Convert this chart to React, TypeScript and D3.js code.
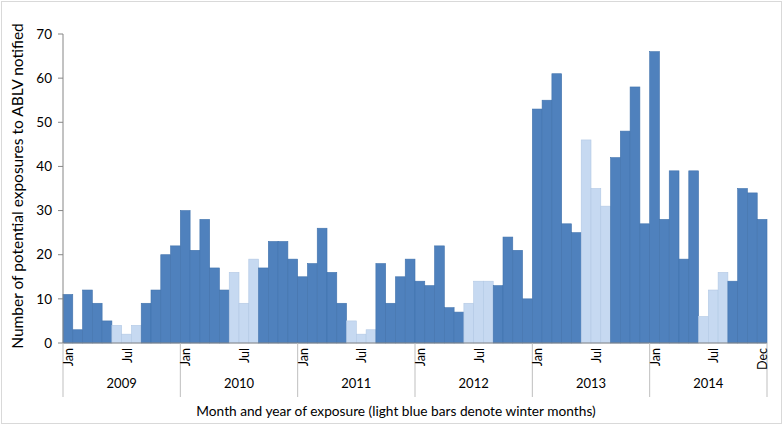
import React from "react";
import * as d3 from "d3";

const years = ["2009", "2010", "2011", "2012", "2013", "2014"];
const months = ["Jan", "Feb", "Mar", "Apr", "May", "Jun", "Jul", "Aug", "Sep", "Oct", "Nov", "Dec"];
const winterMonths = ["Jun", "Jul", "Aug"];
const values2009 = [11, 3, 12, 9, 5, 4, 2, 4, 9, 12, 20, 22];
const values2010 = [30, 21, 28, 17, 12, 16, 9, 19, 17, 23, 23, 19];
const values2011 = [15, 18, 26, 16, 9, 5, 2, 3, 18, 9, 15, 19];
const values2012 = [14, 13, 22, 8, 7, 9, 14, 14, 13, 24, 21, 10];
const values2013 = [53, 55, 61, 27, 25, 46, 35, 31, 42, 48, 58, 27];
const values2014 = [66, 28, 39, 19, 39, 6, 12, 16, 14, 35, 34, 28];
const yTicks = [0, 10, 20, 30, 40, 50, 60, 70];

const allValues = [values2009, values2010, values2011, values2012, values2013, values2014];

type Row = { key: string; year: string; month: string; value: number; winter: boolean };
const rows: Row[] = [];
years.forEach((y, yi) => {
  months.forEach((m, mi) => {
    rows.push({ key: `${y}-${m}`, year: y, month: m, value: allValues[yi][mi], winter: winterMonths.includes(m) });
  });
});

const W = 784;
const H = 427;
const left = 63;
const right = 767;
const top = 34;
const bottom = 343;
const font = "Lato, 'Open Sans', sans-serif";

export default function App() {
  const x = d3.scaleBand<string>().domain(rows.map((r) => r.key)).range([left, right]).padding(0);
  const y = d3.scaleLinear().domain([0, 70]).range([bottom, top]);
  const yearX = d3.scaleBand<string>().domain(years).range([left, right]).padding(0);
  const bw = x.bandwidth();

  const monthLabels = rows.filter(
    (r, i) => r.month === "Jan" || r.month === "Jul" || i === rows.length - 1
  );

  return (
    <svg width={W} height={H} style={{ position: "absolute", left: 0, top: 0, background: "#fff" }}>
      <rect x={1.5} y={1.5} width={W - 4} height={H - 5} fill="#fff" stroke="#d9d9d9" strokeWidth={1} />
      {rows.map((r) => (
        <rect
          key={r.key}
          x={x(r.key)!}
          y={y(r.value)}
          width={bw}
          height={y(0) - y(r.value)}
          fill={r.winter ? "#c6d9f1" : "#4f81bd"}
          stroke={r.winter ? "#b2c8e4" : "#4173ad"}
          strokeWidth={0.6}
        />
      ))}
      {/* y axis */}
      <line x1={left} x2={left} y1={top} y2={bottom} stroke="#868686" strokeWidth={1} />
      {yTicks.map((t) => (
        <g key={t}>
          <line x1={left - 5} x2={left} y1={y(t)} y2={y(t)} stroke="#868686" strokeWidth={1} />
          <text x={left - 11} y={y(t)} dy="0.35em" textAnchor="end" fontFamily={font} fontSize={13.5} fill="#000">
            {t}
          </text>
        </g>
      ))}
      {/* x axis */}
      <line x1={left} x2={right} y1={bottom} y2={bottom} stroke="#868686" strokeWidth={1} />
      {years.map((yr) => (
        <line key={"s" + yr} x1={yearX(yr)!} x2={yearX(yr)!} y1={bottom} y2={397} stroke="#bfbfbf" strokeWidth={1} />
      ))}
      <line x1={right} x2={right} y1={bottom} y2={397} stroke="#bfbfbf" strokeWidth={1} />
      {monthLabels.map((r) => {
        const cx = x(r.key)! + bw / 2;
        return (
          <text
            key={"m" + r.key}
            transform={`translate(${cx + 5},${bottom + 5}) rotate(-90)`}
            textAnchor="end"
            fontFamily={font}
            fontSize={12.5}
            fill="#000"
          >
            {r.month}
          </text>
        );
      })}
      {years.map((yr) => (
        <text
          key={"y" + yr}
          x={yearX(yr)! + yearX.bandwidth() / 2}
          y={388}
          textAnchor="middle"
          fontFamily={font}
          fontSize={13}
          fill="#000"
        >
          {yr}
        </text>
      ))}
      <text x={396} y={416} textAnchor="middle" fontFamily={font} fontSize={13.7} fill="#000">
        Month and year of exposure (light blue bars denote winter months)
      </text>
      <text
        transform={`translate(23,186) rotate(-90)`}
        textAnchor="middle"
        fontFamily={font}
        fontSize={15.5}
        fill="#000"
      >
        Number of potential exposures to ABLV notified
      </text>
    </svg>
  );
}
